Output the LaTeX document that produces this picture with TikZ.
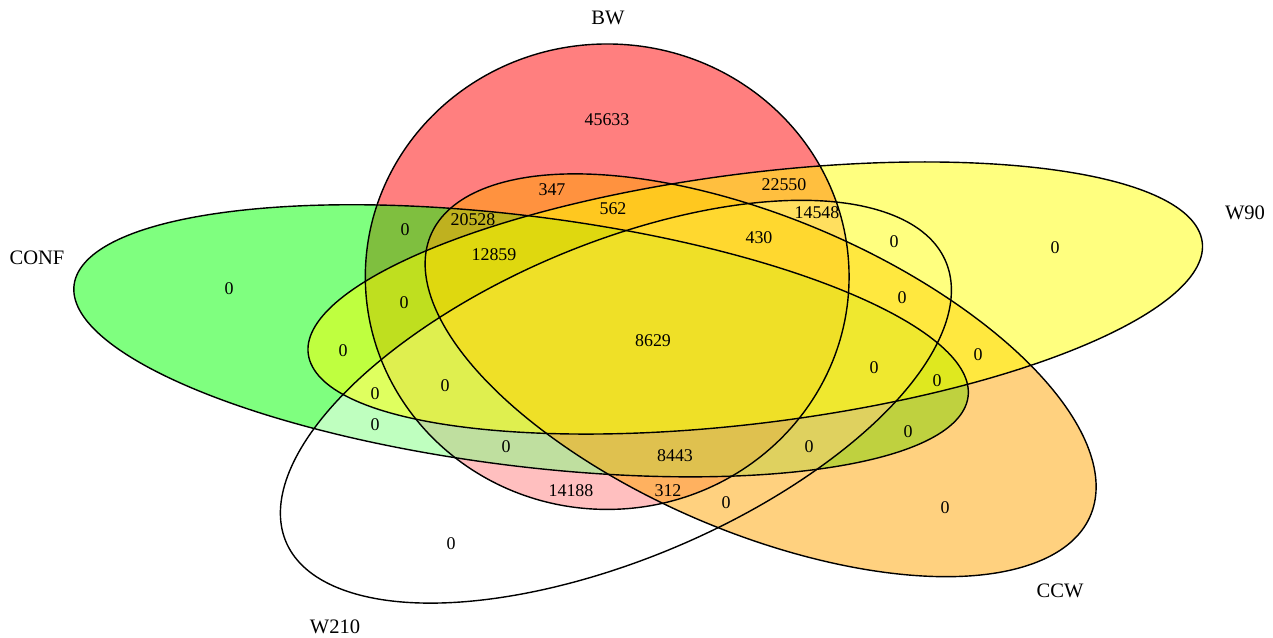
\documentclass[tikz,border=0pt]{standalone}
\usepackage{fontspec}
\setmainfont{Liberation Serif}
\definecolor{vred}{RGB}{255,0,0}
\definecolor{vgreen}{RGB}{0,255,0}
\definecolor{vwhite}{RGB}{255,255,255}
\definecolor{vorange}{RGB}{255,165,0}
\definecolor{vyellow}{RGB}{255,255,0}
\begin{document}
\begin{tikzpicture}[x=0.02cm,y=-0.02cm,
  num/.style={inner sep=0pt, font=\fontsize{10.2}{12}\selectfont},
  cat/.style={inner sep=0pt, font=\fontsize{11.7}{14}\selectfont},
  setfill/.style={fill=#1, fill opacity=0.5},
  setline/.style={draw=black, line width=0.8pt},
  vset/.style={shift={({0.13*cos(110+72*#1)},{0.13*sin(110+72*#1)})}, rotate={72*#1}}]
\fill[white] (0,0) rectangle (1273,638);
\useasboundingbox (0,0) rectangle (1273,638);
\begin{scope}[shift={(652,338.5)}, x=1cm, y=1cm, xscale=20.16, yscale=10.12]
  % fills, in drawing order BW, CONF, W210, CCW, W90
  \path[setfill=vred, vset=0] (0,0) ellipse [x radius=0.24, y radius=0.46];
  \path[setfill=vgreen, vset=1] (0,0) ellipse [x radius=0.24, y radius=0.46];
  \path[setfill=vwhite, vset=2] (0,0) ellipse [x radius=0.24, y radius=0.46];
  \path[setfill=vorange, vset=3] (0,0) ellipse [x radius=0.24, y radius=0.46];
  \path[setfill=vyellow, vset=4] (0,0) ellipse [x radius=0.24, y radius=0.46];
  % outlines
  \draw[setline, vset=0] (0,0) ellipse [x radius=0.24, y radius=0.46];
  \draw[setline, vset=1] (0,0) ellipse [x radius=0.24, y radius=0.46];
  \draw[setline, vset=2] (0,0) ellipse [x radius=0.24, y radius=0.46];
  \draw[setline, vset=3] (0,0) ellipse [x radius=0.24, y radius=0.46];
  \draw[setline, vset=4] (0,0) ellipse [x radius=0.24, y radius=0.46];
\end{scope}
% category labels
\node[cat] (lBW) at (608,18) {BW};
\node[cat] (lCONF) at (37,258) {CONF};
\node[cat] (lW90) at (1245,213) {W90};
\node[cat] (lCCW) at (1060,591) {CCW};
\node[cat] (lW210) at (335,627) {W210};
% region counts
\node[num] (r1) at (607,120) {45633};
\node[num] (r2) at (552,190) {347};
\node[num] (r3) at (613,209) {562};
\node[num] (r4) at (473,220) {20528};
\node[num] (r5) at (405,230) {0};
\node[num] (r6) at (494,255) {12859};
\node[num] (r7) at (229,289) {0};
\node[num] (r8) at (404,303) {0};
\node[num] (r9) at (784,185) {22550};
\node[num] (r10) at (817,213) {14548};
\node[num] (r11) at (759,238) {430};
\node[num] (r12) at (894,242) {0};
\node[num] (r13) at (1055,248) {0};
\node[num] (r14) at (902,298) {0};
\node[num] (r15) at (343,351) {0};
\node[num] (r16) at (375,394) {0};
\node[num] (r17) at (445,386) {0};
\node[num] (r18) at (375,425) {0};
\node[num] (r19) at (506,447) {0};
\node[num] (r20) at (571,491) {14188};
\node[num] (r21) at (451,544) {0};
\node[num] (r22) at (653,341) {8629};
\node[num] (r23) at (874,368) {0};
\node[num] (r24) at (978,355) {0};
\node[num] (r25) at (937,381) {0};
\node[num] (r26) at (908,432) {0};
\node[num] (r27) at (809,447) {0};
\node[num] (r28) at (675,456) {8443};
\node[num] (r29) at (668,491) {312};
\node[num] (r30) at (726,503) {0};
\node[num] (r31) at (945,508) {0};
\end{tikzpicture}
\end{document}
